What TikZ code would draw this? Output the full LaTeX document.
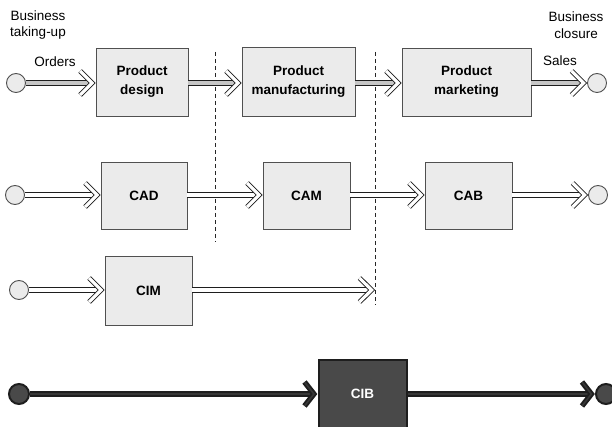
\documentclass[tikz,border=0pt]{standalone}
\usepackage{fontspec}
\setmainfont{Liberation Sans}
\definecolor{boxfill}{HTML}{EBEBEB}
\definecolor{edge}{HTML}{505050}
\definecolor{darkfill}{HTML}{494949}
\definecolor{darkline}{HTML}{1E1E1E}
\tikzset{
  stage/.style={draw=edge, line width=0.9pt, fill=boxfill, inner sep=0pt,
    font=\fontsize{13.5}{19}\selectfont\bfseries, align=center},
  endpoint/.style={circle, draw=edge, line width=0.9pt, fill=boxfill,
    minimum size=19pt, inner sep=0pt},
  flow/.style={draw=darkline, line width=0.9pt, double=#1, double distance=3.6pt,
    shorten >=4pt},
  flow/.default=white,
  bigflow/.style={draw=darkline, line width=1.9pt, double=darkfill!110,
    double distance=2pt, shorten >=4pt},
  chevron/.pic={\draw[draw=darkline, line width=0.9pt, double=white,
      double distance=3.1pt, miter limit=10]
      (-15.5,-12) -- (-3.4,0) -- (-15.5,12);},
  bigchevron/.pic={\draw[draw=darkline, line width=1.9pt, double=darkfill!110,
      double distance=1.6pt, miter limit=10]
      (-13,-12) -- (-3.6,0) -- (-13,12);},
  darkstage/.style={draw=darkline, line width=2pt, fill=darkfill, text=white,
    font=\fontsize{13.5}{19}\selectfont\bfseries, inner sep=0pt},
  darkpoint/.style={circle, draw=darkline, line width=2pt, fill=darkfill,
    minimum size=20pt, inner sep=0pt},
  divider/.style={draw=black!85, line width=0.8pt, dash pattern=on 4pt off 3pt},
  lbl/.style={font=\fontsize{13.5}{16.5}\selectfont, align=center, inner sep=0pt}
}
\begin{document}
\begin{tikzpicture}[x=1pt,y=-1pt]
\useasboundingbox (0,0) rectangle (612,427);

% phase separators
\coordinate (d1t) at (215,52);
\coordinate (d1b) at (215,242);
\coordinate (d2t) at (375,52);
\coordinate (d2b) at (375,305);
\draw[divider] (d1t) -- (d1b);
\draw[divider] (d2t) -- (d2b);

% business chain
\node[endpoint] (s1) at (16,83) {};
\node[stage, minimum width=92pt, minimum height=68pt] (pd) at (142,82) {Product\\design};
\node[stage, minimum width=113pt, minimum height=69pt] (pm) at (298.5,81.5) {Product\\manufacturing};
\node[stage, minimum width=129pt, minimum height=68pt] (pk) at (466.5,82) {Product\\marketing};
\node[endpoint] (e1) at (597,83) {};
\draw[flow=gray!45] (s1.east) -- (s1 -| pd.west);
\draw[flow=gray!45] (pd.east |- s1) -- (s1 -| pm.west);
\draw[flow=gray!45] (pm.east |- s1) -- (s1 -| pk.west);
\draw[flow=gray!45] (pk.east |- s1) -- (e1.west);
\pic at (s1 -| pd.west) {chevron};
\pic at (s1 -| pm.west) {chevron};
\pic at (s1 -| pk.west) {chevron};
\pic at (e1.west) {chevron};

\node[lbl] (bt) at (38,25) {Business\\taking-up};
\node[lbl] (bc) at (576,25) {Business\\closure};
\node[lbl] (or) at (55,62) {Orders};
\node[lbl] (sa) at (560,61) {Sales};

% computer-aided chain
\node[endpoint] (s2) at (15,195) {};
\node[stage, minimum width=86pt, minimum height=67pt] (cad) at (144,195.5) {CAD};
\node[stage, minimum width=87pt, minimum height=67pt] (cam) at (306.5,195.5) {CAM};
\node[stage, minimum width=87pt, minimum height=67pt] (cab) at (468.5,195.5) {CAB};
\node[endpoint] (e2) at (598,195) {};
\draw[flow] (s2.east) -- (s2 -| cad.west);
\draw[flow] (cad.east |- s2) -- (s2 -| cam.west);
\draw[flow] (cam.east |- s2) -- (s2 -| cab.west);
\draw[flow] (cab.east |- s2) -- (e2.west);
\pic at (s2 -| cad.west) {chevron};
\pic at (s2 -| cam.west) {chevron};
\pic at (s2 -| cab.west) {chevron};
\pic at (e2.west) {chevron};

% integrated manufacturing
\node[endpoint] (s3) at (19,290) {};
\node[stage, minimum width=87pt, minimum height=69pt] (cim) at (148.5,290.5) {CIM};
\coordinate (e3) at (375,290);
\draw[flow] (s3.east) -- (s3 -| cim.west);
\draw[flow] (cim.east |- s3) -- (e3);
\pic at (s3 -| cim.west) {chevron};
\pic at (e3) {chevron};

% integrated business
\node[darkpoint] (s4) at (19,394) {};
\node[darkstage, minimum width=88pt, minimum height=68pt] (cib) at (362.5,394) {CIB};
\node[darkpoint] (e4) at (606,394) {};
\draw[bigflow] (s4.east) -- (s4 -| cib.west);
\draw[bigflow] (cib.east |- s4) -- (e4.west);
\pic at (s4 -| cib.west) {bigchevron};
\pic at (e4.west) {bigchevron};
\end{tikzpicture}
\end{document}
